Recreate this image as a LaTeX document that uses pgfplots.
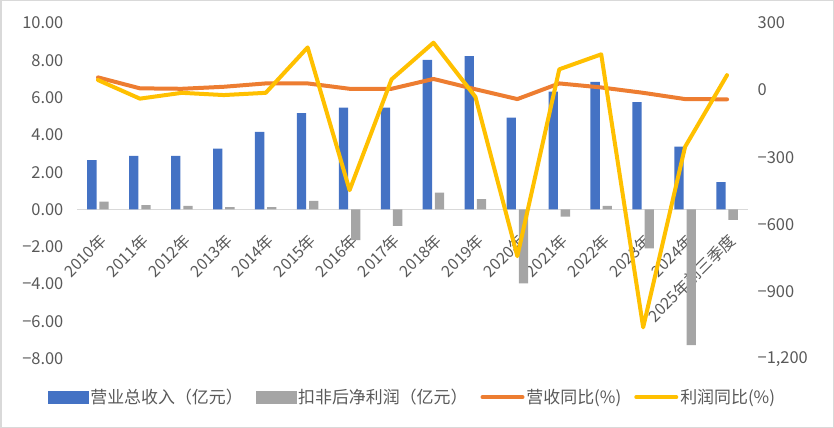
\documentclass[border=0pt]{standalone}
\usepackage{pgfplots}
\pgfplotsset{compat=1.18}
\usepackage{fontspec}
\setmainfont{Noto Sans CJK SC}
\definecolor{cblue}{HTML}{4472C4}
\definecolor{cgrey}{HTML}{A5A5A5}
\definecolor{corange}{HTML}{ED7D31}
\definecolor{cyellow}{HTML}{FFC000}
\definecolor{ctext}{HTML}{595959}
\definecolor{cline}{HTML}{D9D9D9}
\pgfplotstableread{
x rev prof revyoy profyoy
0 2.65 0.42 57 45
1 2.88 0.24 8 -38
2 2.88 0.19 6 -12
3 3.26 0.13 15 -22
4 4.16 0.13 30 -12
5 5.17 0.46 30 191
6 5.46 -1.64 6 -447
7 5.46 -0.88 6 48
8 8.02 0.90 50 212
9 8.23 0.56 4 -30
10 4.92 -3.96 -40 -742
11 6.32 -0.38 30 93
12 6.84 0.19 12 160
13 5.76 -2.08 -12 -1060
14 3.37 -7.27 -40 -253
15 1.47 -0.56 -41 67
}\datatable
\begin{document}
\begin{tikzpicture}[font=\fontsize{16.5}{20}\selectfont, text=ctext]
\path[use as bounding box] (0,0) rectangle (834bp,428bp);
\draw[cline, line width=1.5bp] (0.75bp,0.75bp) rectangle (833.25bp,427.25bp);
\begin{axis}[
  at={(77bp,69.3bp)}, anchor=south west,
  width=671bp, height=335.7bp, scale only axis,
  xmin=-0.5, xmax=15.5, ymin=-8, ymax=10,
  axis x line=middle, axis y line=left,
  axis line style={-},
  x axis line style={draw=cline, line width=1.5bp},
  y axis line style={draw=none},
  xtick={0,...,15},
  xticklabels={2010年,2011年,2012年,2013年,2014年,2015年,2016年,2017年,2018年,2019年,2020年,2021年,2022年,2023年,2024年,2025年前三季度},
  xtick style={draw=none}, ytick style={draw=none},
  x tick label style={yshift=-19bp, xshift=0bp, rotate=45, anchor=north east, font=\fontsize{16}{19}\selectfont, text=ctext, inner sep=1bp},
  ytick={-8,-6,...,10},
  yticklabels={−8.00,−6.00,−4.00,−2.00,0.00,2.00,4.00,6.00,8.00,10.00},
  y tick label style={text=ctext, xshift=-8bp},
]
\addplot[ybar, bar width=9.3bp, bar shift=-6.1bp, fill=cblue, draw=none] table[x=x, y=rev] {\datatable};
\addplot[ybar, bar width=9.3bp, bar shift=6.1bp, fill=cgrey, draw=none] table[x=x, y=prof] {\datatable};
\end{axis}
\begin{axis}[
  at={(77bp,69.3bp)}, anchor=south west,
  width=671bp, height=335.7bp, scale only axis,
  xmin=-0.5, xmax=15.5, ymin=-1200, ymax=300,
  axis y line=right, axis x line=none,
  y axis line style={draw=none},
  ytick style={draw=none},
  ytick={-1200,-900,...,300},
  yticklabels={{−1,200},−900,−600,−300,0,300},
  y tick label style={text=ctext, xshift=4bp},
  legend columns=4,
  legend style={at={(0.5,-0.1147)}, anchor=center, draw=none, fill=none,
    font=\fontsize{17}{20}\selectfont, text=ctext,
    /tikz/every even column/.append style={column sep=11bp}},
  legend cell align=left,
]
\addlegendimage{legend image code/.code={\fill[cblue] (0bp,-6bp) rectangle (40bp,6bp);}}
\addlegendentry{营业总收入（亿元）}
\addlegendimage{legend image code/.code={\fill[cgrey] (0bp,-6bp) rectangle (40bp,6bp);}}
\addlegendentry{扣非后净利润（亿元）}
\addplot[corange, line width=4bp, line join=round, line cap=round, legend image code/.code={\draw[corange, line width=4bp] (0bp,0bp) -- (40bp,0bp);}] table[x=x, y=revyoy] {\datatable};
\addlegendentry{营收同比(\%)}
\addplot[cyellow, line width=4bp, line join=round, line cap=round, legend image code/.code={\draw[cyellow, line width=4bp] (0bp,0bp) -- (40bp,0bp);}] table[x=x, y=profyoy] {\datatable};
\addlegendentry{利润同比(\%)}
\end{axis}
\end{tikzpicture}
\end{document}
